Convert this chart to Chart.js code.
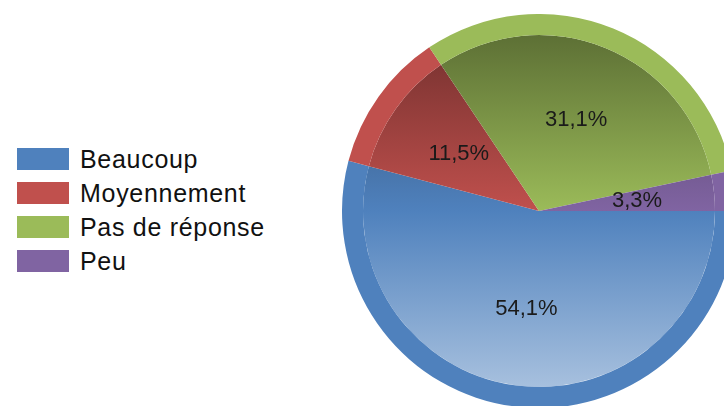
<!DOCTYPE html>
<html>
<head>
<meta charset="utf-8">
<script src="https://cdn.jsdelivr.net/npm/chart.js@4/dist/chart.umd.min.js"></script>
<style>
  html, body { margin: 0; padding: 0; background: #fff; overflow: hidden; }
  body { width: 724px; height: 406px; position: relative; font-family: "Liberation Sans", Arial, sans-serif; }
  #pie { position: absolute; left: 342px; top: 14px; }
  .legend { position: absolute; left: 17px; top: 148px; }
  .legend .row { display: flex; align-items: center; height: 22px; margin-bottom: 12px; }
  .legend .box { width: 52px; height: 22px; margin-right: 11px; box-sizing: border-box; }
  .legend .txt { font-size: 25px; letter-spacing: 0.7px; color: #111; line-height: 22px; white-space: nowrap; }
</style>
</head>
<body>
<div class="legend" id="legend"></div>
<canvas id="pie" width="394" height="394"></canvas>
<script>
// chart data
const categories = ["Beaucoup", "Moyennement", "Pas de réponse", "Peu"];
const values = [54.1, 11.5, 31.1, 3.3];
const colors = ["#4f81bd", "#c0504d", "#9bbb59", "#8064a2"];

// outer rim vs inner disc (relative weights of the two rings)
const RIM = 21, INNER = 176;

const hexToRgb = (h) => [1, 3, 5].map(i => parseInt(h.slice(i, i + 2), 16));
const shade = (h, f) => {
  const c = hexToRgb(h).map(v => Math.round(v * f));
  return `rgb(${c[0]},${c[1]},${c[2]})`;
};
const tint = (h, t) => {
  const c = hexToRgb(h).map(v => Math.round(v + (255 - v) * t));
  return `rgb(${c[0]},${c[1]},${c[2]})`;
};

// build the html legend from the arrays
const legend = document.getElementById("legend");
categories.forEach((name, i) => {
  const row = document.createElement("div");
  row.className = "row";
  const box = document.createElement("div");
  box.className = "box";
  box.style.background = colors[i];
  const txt = document.createElement("div");
  txt.className = "txt";
  txt.textContent = name;
  row.appendChild(box);
  row.appendChild(txt);
  legend.appendChild(row);
});

// vertical gradient over the inner disc: darker on top, lighter at the bottom
const innerFill = (ctx) => {
  const chart = ctx.chart;
  const area = chart.chartArea;
  const base = colors[ctx.dataIndex];
  if (!area) return base;
  const cy = (area.top + area.bottom) / 2;
  const r = (area.bottom - area.top) / 2 * INNER / (RIM + INNER);
  const g = chart.ctx.createLinearGradient(0, cy - r, 0, cy + r);
  g.addColorStop(0, shade(base, 0.6));
  g.addColorStop(0.5, base);
  g.addColorStop(1, tint(base, 0.5));
  return g;
};

// percentage labels at half radius, middle angle
const pctLabels = {
  id: "pctLabels",
  afterDatasetsDraw(chart) {
    const meta = chart.getDatasetMeta(1);
    const ctx = chart.ctx;
    const outer = chart.getDatasetMeta(0).data[0].outerRadius;
    ctx.save();
    ctx.font = '22px "Liberation Sans", Arial, sans-serif';
    ctx.fillStyle = "#1a1a1a";
    ctx.textAlign = "center";
    ctx.textBaseline = "middle";
    meta.data.forEach((arc, i) => {
      const mid = (arc.startAngle + arc.endAngle) / 2;
      const d = outer * 0.5;
      const x = arc.x + Math.cos(mid) * d;
      const y = arc.y + Math.sin(mid) * d;
      ctx.fillText(values[i].toFixed(1).replace(".", ",") + "%", x, y);
    });
    ctx.restore();
  }
};

new Chart(document.getElementById("pie"), {
  type: "doughnut",
  data: {
    labels: categories,
    datasets: [
      { data: values, backgroundColor: colors, borderWidth: 0, weight: RIM },
      { data: values, backgroundColor: innerFill, borderWidth: 0, weight: INNER }
    ]
  },
  options: {
    responsive: false,
    animation: false,
    events: [],
    cutout: 0,
    rotation: 90,
    layout: { padding: 0 },
    plugins: {
      legend: { display: false },
      tooltip: { enabled: false }
    }
  },
  plugins: [pctLabels]
});
</script>
</body>
</html>
